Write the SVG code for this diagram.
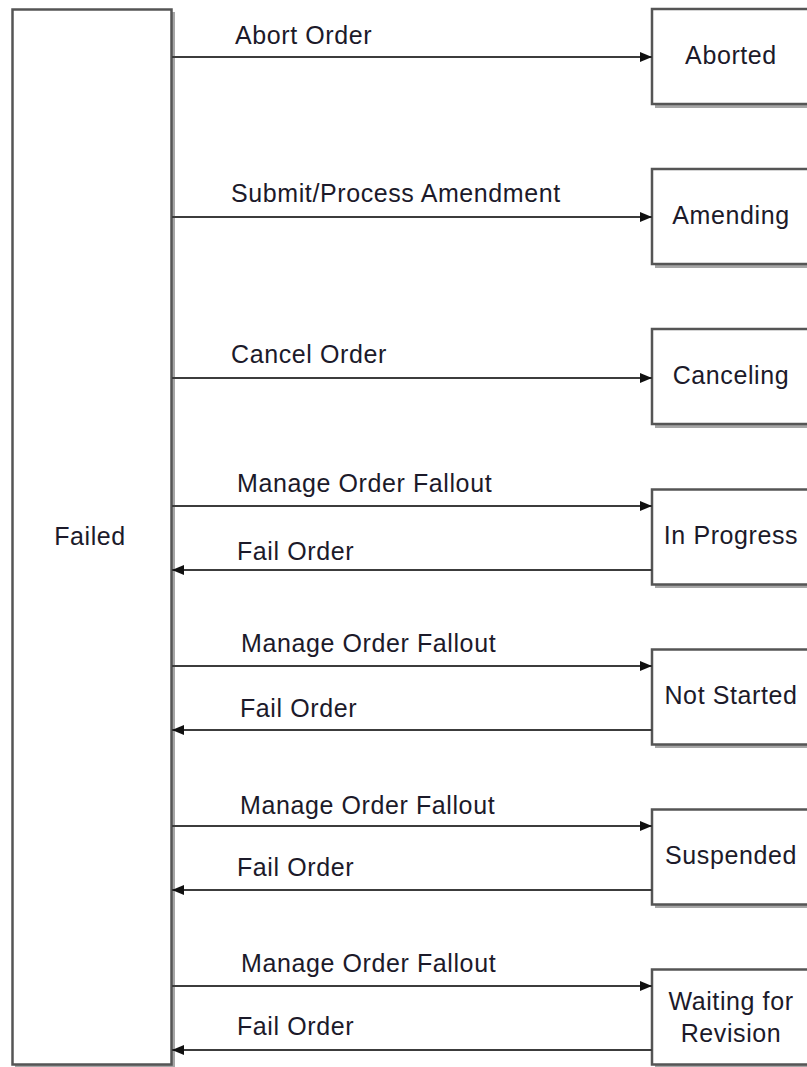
<svg xmlns="http://www.w3.org/2000/svg" width="807" height="1067" viewBox="0 0 807 1067">
<style>
.box{fill:#ffffff;stroke:#555555;stroke-width:2.5}
.shadow{fill:#a6a6a6}
.conn{stroke:#3c3c3c;stroke-width:2;fill:none}
.lbl{font-family:"Liberation Sans",Arial,sans-serif;font-size:25px;fill:#1c1a2a;letter-spacing:0.6px}
.mid{text-anchor:middle}
</style>
<defs>
<marker id="arr" markerUnits="userSpaceOnUse" markerWidth="13" markerHeight="11" refX="12" refY="5" orient="auto">
<path d="M0,0 L12,5 L0,10 z" fill="#111111"/>
</marker>
</defs>
<rect width="807" height="1067" fill="#ffffff"/>

<g id="node-failed">
<rect class="shadow" x="15" y="12" width="160" height="1056"/>
<rect class="box" x="12.5" y="9.5" width="159" height="1055"/>
<text class="lbl mid" x="90" y="545">Failed</text>
</g>

<g id="node-aborted">
<rect class="shadow" x="655" y="12" width="160" height="96"/>
<rect class="box" x="652" y="9" width="160" height="95"/>
<text class="lbl mid" x="731" y="64">Aborted</text>
</g>
<g id="node-amending">
<rect class="shadow" x="655" y="172" width="160" height="96"/>
<rect class="box" x="652" y="169" width="160" height="95"/>
<text class="lbl mid" x="731" y="224">Amending</text>
</g>
<g id="node-canceling">
<rect class="shadow" x="655" y="332" width="160" height="96"/>
<rect class="box" x="652" y="329" width="160" height="95"/>
<text class="lbl mid" x="731" y="384">Canceling</text>
</g>
<g id="node-inprogress">
<rect class="shadow" x="655" y="492" width="160" height="96"/>
<rect class="box" x="652" y="489.5" width="160" height="95"/>
<text class="lbl mid" x="731" y="544">In Progress</text>
</g>
<g id="node-notstarted">
<rect class="shadow" x="655" y="652" width="160" height="96"/>
<rect class="box" x="652" y="649.5" width="160" height="95"/>
<text class="lbl mid" x="731" y="704">Not Started</text>
</g>
<g id="node-suspended">
<rect class="shadow" x="655" y="812" width="160" height="96"/>
<rect class="box" x="652" y="809.5" width="160" height="95"/>
<text class="lbl mid" x="731" y="864">Suspended</text>
</g>
<g id="node-waiting">
<rect class="shadow" x="655" y="972" width="160" height="96"/>
<rect class="box" x="652" y="969.5" width="160" height="95"/>
<text class="lbl mid" x="731" y="1010">Waiting for</text>
<text class="lbl mid" x="731" y="1042">Revision</text>
</g>

<g id="connectors">
<line class="conn" x1="172" y1="57" x2="652" y2="57" marker-end="url(#arr)"/>
<line class="conn" x1="172" y1="217" x2="652" y2="217" marker-end="url(#arr)"/>
<line class="conn" x1="172" y1="378" x2="652" y2="378" marker-end="url(#arr)"/>
<line class="conn" x1="172" y1="506" x2="652" y2="506" marker-end="url(#arr)"/>
<line class="conn" x1="652" y1="570" x2="172" y2="570" marker-end="url(#arr)"/>
<line class="conn" x1="172" y1="666" x2="652" y2="666" marker-end="url(#arr)"/>
<line class="conn" x1="652" y1="730" x2="172" y2="730" marker-end="url(#arr)"/>
<line class="conn" x1="172" y1="826" x2="652" y2="826" marker-end="url(#arr)"/>
<line class="conn" x1="652" y1="890" x2="172" y2="890" marker-end="url(#arr)"/>
<line class="conn" x1="172" y1="986" x2="652" y2="986" marker-end="url(#arr)"/>
<line class="conn" x1="652" y1="1050" x2="172" y2="1050" marker-end="url(#arr)"/>
<text class="lbl" x="235" y="44">Abort Order</text>
<text class="lbl" x="231" y="202">Submit/Process Amendment</text>
<text class="lbl" x="231" y="363">Cancel Order</text>
<text class="lbl" x="237" y="492">Manage Order Fallout</text>
<text class="lbl" x="237" y="560">Fail Order</text>
<text class="lbl" x="241" y="652">Manage Order Fallout</text>
<text class="lbl" x="240" y="717">Fail Order</text>
<text class="lbl" x="240" y="814">Manage Order Fallout</text>
<text class="lbl" x="237" y="876">Fail Order</text>
<text class="lbl" x="241" y="972">Manage Order Fallout</text>
<text class="lbl" x="237" y="1035">Fail Order</text>
</g>
</svg>
